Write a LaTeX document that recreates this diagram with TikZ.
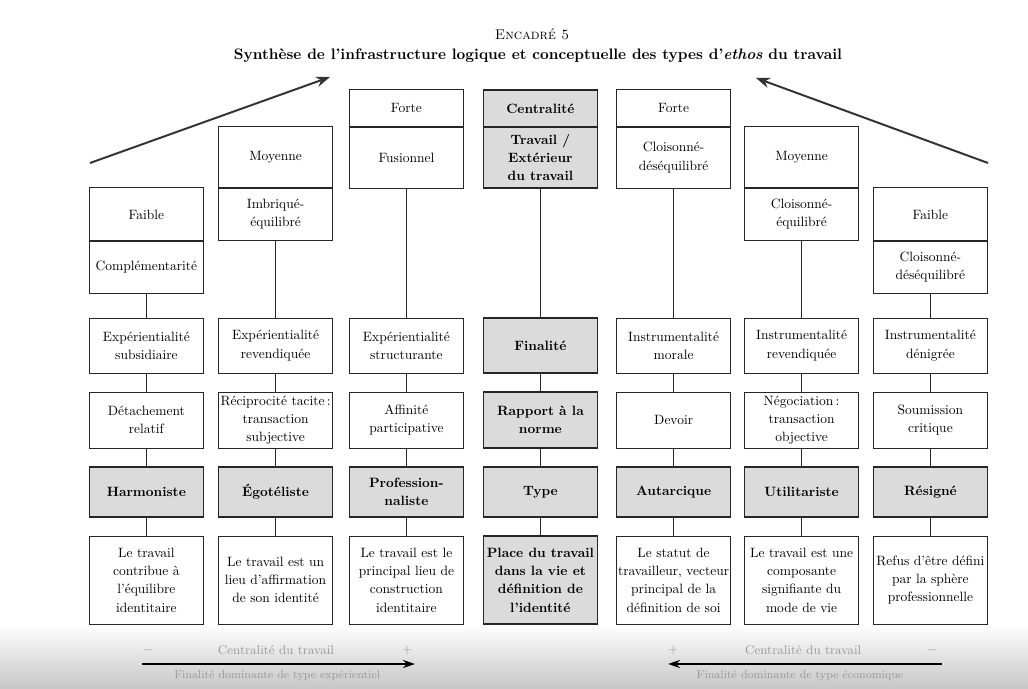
\documentclass[tikz,border=0pt]{standalone}
\usetikzlibrary{arrows.meta}
\tikzset{
  box/.style={draw=black!85, line width=0.7pt, align=center, minimum width=2.85cm, inner sep=1pt, font=\fontsize{9.6}{13}\selectfont},
  keybox/.style={box, fill=black!14, line width=1.2pt, font=\fontsize{9.6}{13}\selectfont\bfseries},
  link/.style={draw=black!85, line width=0.7pt},
  trend/.style={line width=1.4pt, black!80, -{Stealth[length=3.5mm,width=2.6mm]}},
  axis/.style={line width=1.3pt, -{Stealth[length=3mm,width=2mm]}},
  faint/.style={text=black!40, font=\fontsize{9}{11}\selectfont}
}
\begin{document}
\begin{tikzpicture}
	\useasboundingbox (0,0) rectangle (25.7,17.2);
	\fill[top color=white, bottom color=black!22] (0,0) rectangle (25.7,1.6);
	\node (encadre) at (13.3,16.35) {\textsc{Encadré 5}};
	\node[font=\fontsize{10.8}{13}\selectfont\bfseries] (titre) at (13.45,15.8) {Synthèse de l’infrastructure logique et conceptuelle des types d’\textit{ethos} du travail};
	% trends towards strong centrality
	\coordinate (tl0) at (2.25,13.125);
	\coordinate (tl1) at (8.25,15.275);
	\coordinate (tr0) at (24.7,13.125);
	\coordinate (tr1) at (18.9,15.25);
	\draw[trend] (tl0) -- (tl1);
	\draw[trend] (tr0) -- (tr1);
	% Harmoniste
	\node[box, minimum height=1.325cm] (c1lvl) at (3.66,11.84) {Faible};
	\node[box, minimum height=1.3cm] (c1rel) at (3.66,10.525) {Complémentarité};
	\node[box, minimum height=1.375cm] (c1fin) at (3.66,8.56) {Expérientialité\\subsidiaire};
	\node[box, minimum height=1.4cm] (c1nor) at (3.66,6.7) {Détachement\\relatif};
	\node[keybox, minimum height=1.25cm] (c1typ) at (3.66,4.9) {Harmoniste};
	\node[box, minimum height=2.2cm] (c1def) at (3.66,2.7) {Le travail\\contribue à\\l’équilibre\\identitaire};
	% Egoteliste
	\node[box, minimum height=1.55cm] (c2lvl) at (6.89,13.275) {Moyenne};
	\node[box, minimum height=1.325cm] (c2rel) at (6.89,11.84) {Imbriqué-\\équilibré};
	\node[box, minimum height=1.375cm] (c2fin) at (6.89,8.56) {Expérientialité\\revendiquée};
	\node[box, minimum height=1.4cm] (c2nor) at (6.89,6.7) {Réciprocité tacite\,:\\transaction\\subjective};
	\node[keybox, minimum height=1.25cm] (c2typ) at (6.89,4.9) {Égotéliste};
	\node[box, minimum height=2.2cm] (c2def) at (6.89,2.7) {Le travail est un\\lieu d’affirmation\\de son identité};
	% Professionnaliste
	\node[box, minimum height=0.925cm] (c3lvl) at (10.16,14.49) {Forte};
	\node[box, minimum height=1.525cm] (c3rel) at (10.16,13.26) {Fusionnel};
	\node[box, minimum height=1.375cm] (c3fin) at (10.16,8.56) {Expérientialité\\structurante};
	\node[box, minimum height=1.4cm] (c3nor) at (10.16,6.7) {Affinité\\participative};
	\node[keybox, minimum height=1.25cm] (c3typ) at (10.16,4.9) {Profession-\\naliste};
	\node[box, minimum height=2.2cm] (c3def) at (10.16,2.7) {Le travail est le\\principal lieu de\\construction\\identitaire};
	% criteria
	\node[keybox, minimum height=0.925cm] (c4lvl) at (13.51,14.49) {Centralité};
	\node[keybox, minimum height=1.525cm] (c4rel) at (13.51,13.26) {Travail /\\Extérieur\\du travail};
	\node[keybox, minimum height=1.375cm] (c4fin) at (13.51,8.56) {Finalité};
	\node[keybox, minimum height=1.4cm] (c4nor) at (13.51,6.7) {Rapport à la\\norme};
	\node[keybox, minimum height=1.25cm] (c4typ) at (13.51,4.9) {Type};
	\node[keybox, minimum height=2.2cm] (c4def) at (13.51,2.7) {Place du travail\\dans la vie et\\définition de\\l’identité};
	% Autarcique
	\node[box, minimum height=0.925cm] (c5lvl) at (16.84,14.49) {Forte};
	\node[box, minimum height=1.525cm] (c5rel) at (16.84,13.26) {Cloisonné-\\déséquilibré};
	\node[box, minimum height=1.375cm] (c5fin) at (16.84,8.56) {Instrumentalité\\morale};
	\node[box, minimum height=1.4cm] (c5nor) at (16.84,6.7) {Devoir};
	\node[keybox, minimum height=1.25cm] (c5typ) at (16.84,4.9) {Autarcique};
	\node[box, minimum height=2.2cm] (c5def) at (16.84,2.7) {Le statut de\\travailleur, vecteur\\principal de la\\définition de soi};
	% Utilitariste
	\node[box, minimum height=1.55cm] (c6lvl) at (20.04,13.275) {Moyenne};
	\node[box, minimum height=1.325cm] (c6rel) at (20.04,11.84) {Cloisonné-\\équilibré};
	\node[box, minimum height=1.375cm] (c6fin) at (20.04,8.56) {Instrumentalité\\revendiquée};
	\node[box, minimum height=1.4cm] (c6nor) at (20.04,6.7) {Négociation\,:\\transaction\\objective};
	\node[keybox, minimum height=1.25cm] (c6typ) at (20.04,4.9) {Utilitariste};
	\node[box, minimum height=2.2cm] (c6def) at (20.04,2.7) {Le travail est une\\composante\\signifiante du\\mode de vie};
	% Resigne
	\node[box, minimum height=1.325cm] (c7lvl) at (23.26,11.84) {Faible};
	\node[box, minimum height=1.3cm] (c7rel) at (23.26,10.525) {Cloisonné-\\déséquilibré};
	\node[box, minimum height=1.375cm] (c7fin) at (23.26,8.56) {Instrumentalité\\dénigrée};
	\node[box, minimum height=1.4cm] (c7nor) at (23.26,6.7) {Soumission\\critique};
	\node[keybox, minimum height=1.25cm] (c7typ) at (23.26,4.9) {Résigné};
	\node[box, minimum height=2.2cm] (c7def) at (23.26,2.7) {Refus d’être défini\\par la sphère\\professionnelle};
	% links
	\draw[link] (c1rel) -- (c1fin) (c1fin) -- (c1nor) (c1nor) -- (c1typ) (c1typ) -- (c1def);
	\draw[link] (c2rel) -- (c2fin) (c2fin) -- (c2nor) (c2nor) -- (c2typ) (c2typ) -- (c2def);
	\draw[link] (c3rel) -- (c3fin) (c3fin) -- (c3nor) (c3nor) -- (c3typ) (c3typ) -- (c3def);
	\draw[link] (c4rel) -- (c4fin) (c4fin) -- (c4nor) (c4nor) -- (c4typ) (c4typ) -- (c4def);
	\draw[link] (c5rel) -- (c5fin) (c5fin) -- (c5nor) (c5nor) -- (c5typ) (c5typ) -- (c5def);
	\draw[link] (c6rel) -- (c6fin) (c6fin) -- (c6nor) (c6nor) -- (c6typ) (c6typ) -- (c6def);
	\draw[link] (c7rel) -- (c7fin) (c7fin) -- (c7nor) (c7nor) -- (c7typ) (c7typ) -- (c7def);
	% centrality axes
	\coordinate (bl0) at (3.55,0.6);
	\coordinate (bl1) at (10.375,0.6);
	\coordinate (br0) at (23.55,0.6);
	\coordinate (br1) at (16.7,0.6);
	\draw[axis] (bl0) -- (bl1);
	\draw[axis] (br0) -- (br1);
	\node[faint] (axl) at (6.9,0.95) {Centralité du travail};
	\node[faint] (axlm) at (3.7,0.95) {$-$};
	\node[faint] (axlp) at (10.18,0.95) {+};
	\node[faint, font=\fontsize{8}{10}\selectfont] (finl) at (6.93,0.3) {Finalité dominante de type expérientiel};
	\node[faint] (axr) at (20.08,0.95) {Centralité du travail};
	\node[faint] (axrp) at (16.83,0.95) {+};
	\node[faint] (axrm) at (23.3,0.95) {$-$};
	\node[faint, font=\fontsize{8}{10}\selectfont] (finr) at (20.0,0.3) {Finalité dominante de type économique};
\end{tikzpicture}
\end{document}
